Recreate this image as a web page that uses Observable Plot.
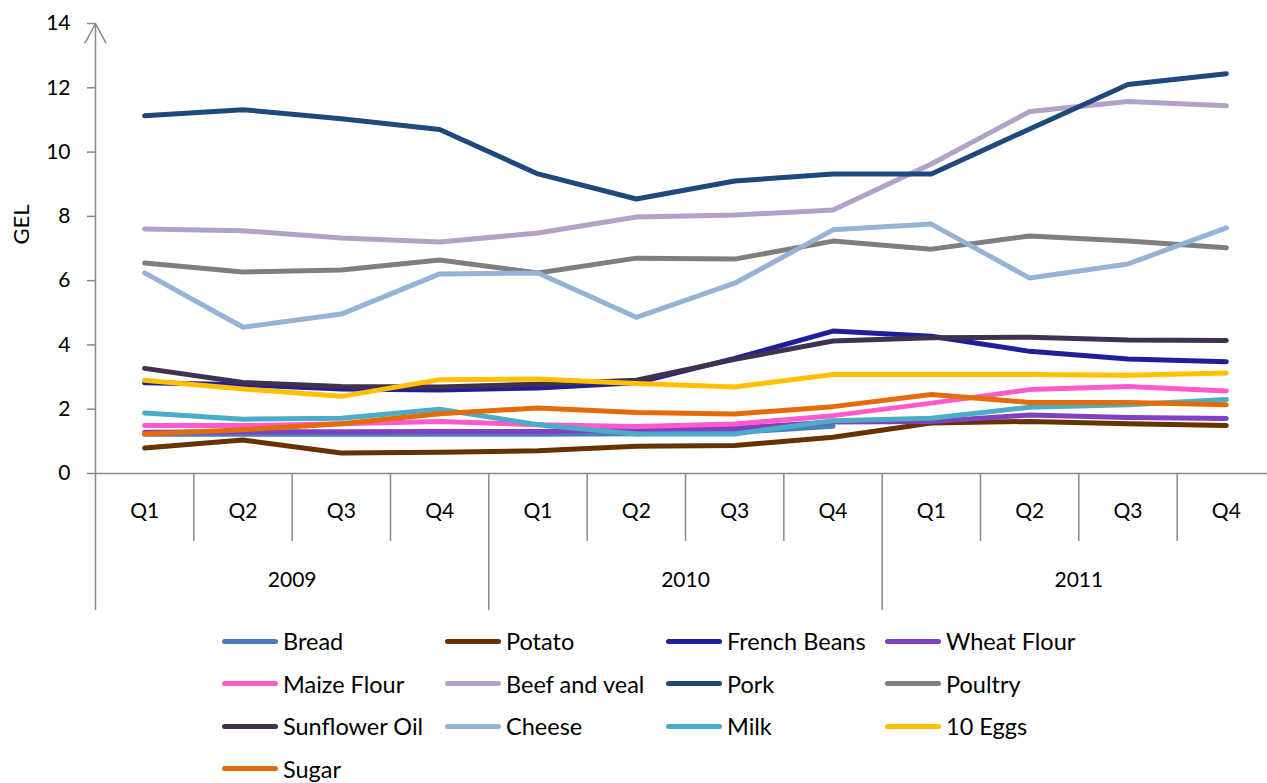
<!DOCTYPE html>
<html>
<head>
<meta charset="utf-8">
<script src="https://cdn.jsdelivr.net/npm/d3@7"></script>
<script src="https://cdn.jsdelivr.net/npm/@observablehq/plot@0.6"></script>
<style>
  html, body { margin: 0; padding: 0; background: #fff; overflow: hidden; }
  #chart { width: 1267px; }
  #legend { position: relative; width: 1267px; height: 170px; font-family: Lato, sans-serif; font-size: 23.5px; color: #000; }
  .item { position: absolute; display: flex; align-items: center; height: 42px; white-space: nowrap; }
  .sw { width: 56px; height: 5px; border-radius: 3px; margin-right: 5px; }
</style>
</head>
<body>
<div id="chart"></div>
<div id="legend"></div>
<script>
const quarterLabels = ["Q1", "Q2", "Q3", "Q4"];
const years = ["2009", "2010", "2011"];
const yTicks = [0, 2, 4, 6, 8, 10, 12, 14];
const yLabel = "GEL";

const series = ["Bread", "Potato", "French Beans", "Wheat Flour", "Maize Flour", "Beef and veal", "Pork", "Poultry", "Sunflower Oil", "Cheese", "Milk", "10 Eggs", "Sugar"];
const colors = ["#4a7ebb", "#663300", "#1f1f99", "#8040bf", "#ff5bcc", "#b3a2c7", "#1f497d", "#7f7f7f", "#403151", "#95b3d7", "#4bacc6", "#ffc000", "#e36c09"];

const bread        = [1.22, 1.22, 1.22, 1.22, 1.22, 1.24, 1.28, 1.47, null, null, null, null];
const potato       = [0.79, 1.04, 0.64, 0.66, 0.71, 0.85, 0.87, 1.13, 1.57, 1.62, 1.55, 1.49];
const frenchBeans  = [2.82, 2.76, 2.63, 2.60, 2.66, 2.82, 3.58, 4.43, 4.27, 3.80, 3.56, 3.48];
const wheatFlour   = [1.28, 1.30, 1.30, 1.31, 1.31, 1.36, 1.41, 1.60, 1.62, 1.82, 1.74, 1.71];
const maizeFlour   = [1.49, 1.49, 1.55, 1.62, 1.52, 1.46, 1.54, 1.80, 2.19, 2.61, 2.71, 2.57];
const beefVeal     = [7.61, 7.55, 7.33, 7.20, 7.48, 7.98, 8.04, 8.20, 9.63, 11.26, 11.57, 11.44];
const pork         = [11.13, 11.32, 11.04, 10.70, 9.32, 8.54, 9.10, 9.32, 9.32, 10.72, 12.10, 12.44];
const poultry      = [6.55, 6.27, 6.33, 6.64, 6.24, 6.70, 6.67, 7.23, 6.98, 7.39, 7.23, 7.02];
const sunflowerOil = [3.27, 2.83, 2.71, 2.69, 2.78, 2.90, 3.55, 4.12, 4.22, 4.24, 4.15, 4.14];
const cheese       = [6.24, 4.55, 4.96, 6.21, 6.24, 4.86, 5.92, 7.58, 7.76, 6.08, 6.52, 7.64];
const milk         = [1.88, 1.69, 1.72, 2.00, 1.52, 1.23, 1.23, 1.64, 1.72, 2.06, 2.14, 2.30];
const eggs         = [2.90, 2.63, 2.40, 2.92, 2.94, 2.80, 2.69, 3.08, 3.08, 3.08, 3.06, 3.13];
const sugar        = [1.23, 1.36, 1.55, 1.86, 2.04, 1.90, 1.85, 2.08, 2.46, 2.21, 2.21, 2.14];

const values = [bread, potato, frenchBeans, wheatFlour, maizeFlour, beefVeal, pork, poultry, sunflowerOil, cheese, milk, eggs, sugar];

const n = years.length * quarterLabels.length;
const idx = d3.range(n);
const quarterSeps = d3.range(n + 1).map(i => i - 0.5).filter((d, i) => i % 4 !== 0);
const yearSeps = d3.range(years.length).map(i => i * 4 - 0.5);
const yearCenters = d3.range(years.length).map(i => i * 4 + 1.5);

const table = [];
series.forEach((s, k) => values[k].forEach((v, i) => { if (v != null) table.push({series: s, i, v}); }));

const gray = "#888888";
const font = "Lato, sans-serif";

const chart = Plot.plot({
  width: 1267,
  height: 620,
  marginTop: 23,
  marginBottom: 147,
  marginLeft: 95,
  marginRight: 0,
  style: {fontFamily: font, fontSize: "21px", color: "#000", overflow: "visible"},
  x: {type: "linear", domain: [-0.5, n - 0.5], range: [95, 1275], label: null},
  y: {domain: [yTicks[0], yTicks[yTicks.length - 1]], label: null},
  color: {domain: series, range: colors},
  marks: [
    Plot.axisY({ticks: yTicks, tickSize: 8, tickPadding: 17, stroke: gray, strokeWidth: 1.5, fontSize: 21, label: null}),
    Plot.text([yLabel], {frameAnchor: "left", dx: -74, dy: -4, rotate: -90, fontSize: 22, fill: "#000"}),
    Plot.ruleY([yTicks[0]], {x1: -0.5, x2: n + 0.5, stroke: gray, strokeWidth: 1.5}),
    Plot.arrow([0], {x1: -0.5, x2: -0.5, y1: yTicks[0], y2: yTicks[yTicks.length - 1], stroke: gray, strokeWidth: 1.5, headLength: 22, headAngle: 56}),
    Plot.axisX({ticks: quarterSeps, tickSize: 68, tickFormat: () => "", stroke: gray, strokeWidth: 1.5, label: null}),
    Plot.axisX({ticks: yearSeps, tickSize: 137, tickFormat: () => "", stroke: gray, strokeWidth: 1.5, label: null}),
    Plot.axisX({ticks: idx, tickSize: 0, tickPadding: 30, tickFormat: i => quarterLabels[i % 4], fontSize: 21, label: null}),
    Plot.axisX({ticks: yearCenters, tickSize: 0, tickPadding: 99, tickFormat: (d, i) => years[i], fontSize: 21, label: null}),
    Plot.lineY(table, {x: "i", y: "v", z: "series", stroke: "series", strokeWidth: 5, strokeLinecap: "round", strokeLinejoin: "round"})
  ]
});
document.getElementById("chart").append(chart);

const legend = document.getElementById("legend");
const colX = [222, 445, 666, 885];
series.forEach((s, k) => {
  const el = document.createElement("div");
  el.className = "item";
  el.style.left = colX[k % 4] + "px";
  el.style.top = (Math.floor(k / 4) * 42.5) + "px";
  const sw = document.createElement("span");
  sw.className = "sw";
  sw.style.background = colors[k];
  const tx = document.createElement("span");
  tx.textContent = s;
  el.append(sw, tx);
  legend.append(el);
});
</script>
</body>
</html>
